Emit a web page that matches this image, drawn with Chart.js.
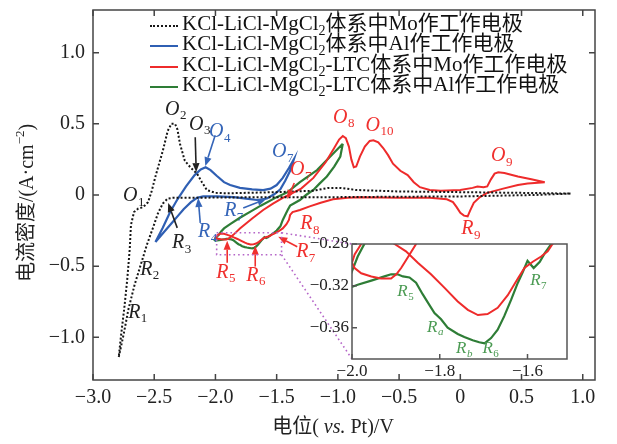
<!DOCTYPE html>
<html>
<head>
<meta charset="utf-8">
<script src="https://cdn.jsdelivr.net/npm/chart.js@4.4.1/dist/chart.umd.min.js"></script>
<style>
  html, body { margin: 0; padding: 0; background: #fff; }
  #wrap { position: relative; width: 617px; height: 444px; overflow: hidden; }
  #main { position: absolute; left: 0; top: 0; }
  #inset { position: absolute; left: 302px; top: 230px; }
  #legend { position: absolute; left: 150px; top: 13px; color: #111;
    font: 21px 'Liberation Serif', 'Noto Sans CJK SC', serif; }
  .row { position: relative; height: 20.3px; line-height: 20.3px; padding-left: 32px; white-space: nowrap; }
  .row i { position: absolute; left: 0; top: 12px; width: 28px; height: 0; }
  .row sub { font-size: 14px; vertical-align: baseline; position: relative; top: 5px; line-height: 0; }
</style>
</head>
<body>
<div id="wrap">
  <canvas id="main" width="617" height="444"></canvas>
  <canvas id="inset" width="269" height="153"></canvas>
  <div id="legend"></div>
</div>
<script>
// CV curves: KCl-LiCl-MgCl2 (with / without LTC) on Mo and Al electrodes.
// Each curve is a closed loop, so points are {x: potential V, y: current A/cm2}.

// Mo electrode, KCl-LiCl-MgCl2 (dotted black)
const moX = [0.90, 0.60, 0.30, 0.00, -0.50, -1.00, -1.50, -2.00, -2.20, -2.35,
  -2.39, -2.43, -2.47, -2.51, -2.56, -2.61, -2.66, -2.71, -2.75, -2.79,
  -2.77, -2.745, -2.72, -2.70, -2.69, -2.665, -2.63, -2.59, -2.55, -2.52,
  -2.49, -2.46, -2.43, -2.39, -2.36, -2.33, -2.31, -2.29, -2.25, -2.20,
  -2.15, -2.11, -2.07, -2.00, -1.90, -1.50, -1.20, -1.08, -0.98, -0.85,
  -0.50, 0.00, 0.50, 0.90];
const moY = [0.01, 0.00, -0.005, -0.01, -0.012, -0.015, -0.015, -0.018, -0.02, -0.02,
  -0.025, -0.06, -0.13, -0.23, -0.35, -0.49, -0.63, -0.80, -0.98, -1.14,
  -0.98, -0.80, -0.59, -0.38, -0.21, -0.12, -0.095, -0.085, -0.05, 0.03,
  0.13, 0.22, 0.31, 0.45, 0.50, 0.50, 0.46, 0.36, 0.24, 0.19,
  0.15, 0.09, 0.035, 0.015, 0.012, 0.02, 0.03, 0.05, 0.05, 0.035,
  0.025, 0.02, 0.015, 0.01];

// Al electrode, KCl-LiCl-MgCl2 (blue)
const alX = [-2.49, -2.43, -2.37, -2.31, -2.24, -2.17, -2.12, -2.08, -2.04, -1.99,
  -1.93, -1.88, -1.80, -1.70, -1.61, -1.55, -1.50, -1.45, -1.40, -1.36,
  -1.39, -1.43, -1.47, -1.52, -1.58, -1.66, -1.75, -1.85, -1.99, -2.10,
  -2.15, -2.20, -2.26, -2.31, -2.36, -2.42, -2.49];
const alY = [-0.33, -0.23, -0.12, -0.03, 0.06, 0.14, 0.18, 0.195, 0.175, 0.135,
  0.09, 0.07, 0.05, 0.04, 0.035, 0.045, 0.07, 0.12, 0.19, 0.25,
  0.17, 0.10, 0.04, 0.005, -0.025, -0.035, -0.025, -0.015, -0.01, -0.01,
  -0.02, -0.05, -0.10, -0.15, -0.20, -0.26, -0.33];

// Mo electrode, KCl-LiCl-MgCl2-LTC (red)
const moLtcX = [0.69, 0.55, 0.47, 0.35, 0.22, 0.16, 0.11, 0.08, 0.06, 0.03,
  0.00, -0.03, -0.06, -0.11, -0.25, -0.50, -0.82, -0.92, -1.04, -1.14,
  -1.23, -1.31, -1.37, -1.39, -1.40, -1.42, -1.45, -1.49, -1.52, -1.543,
  -1.554, -1.569, -1.588, -1.607, -1.622, -1.645, -1.668, -1.691, -1.713, -1.736,
  -1.759, -1.789, -1.820, -1.850, -1.877, -1.903, -1.930, -1.960, -1.979, -1.994,
  -2.000, -1.994, -1.979, -1.956, -1.934, -1.911, -1.899, -1.888, -1.873, -1.854,
  -1.80, -1.70, -1.61, -1.53, -1.45, -1.38, -1.30, -1.20, -1.10, -1.03,
  -0.99, -0.96, -0.935, -0.91, -0.89, -0.87, -0.85, -0.82, -0.78, -0.74,
  -0.71, -0.67, -0.63, -0.59, -0.55, -0.49, -0.43, -0.38, -0.33, -0.25,
  -0.16, 0.00, 0.10, 0.14, 0.19, 0.22, 0.25, 0.28, 0.31, 0.36,
  0.47, 0.58, 0.69];
const moLtcY = [0.09, 0.08, 0.07, 0.045, 0.015, -0.015, -0.055, -0.11, -0.15, -0.145,
  -0.125, -0.085, -0.05, -0.03, -0.02, -0.02, -0.015, -0.02, -0.03, -0.055,
  -0.08, -0.105, -0.12, -0.14, -0.175, -0.205, -0.235, -0.258, -0.272, -0.28,
  -0.287, -0.292, -0.297, -0.303, -0.313, -0.329, -0.341, -0.347, -0.348, -0.343,
  -0.335, -0.322, -0.309, -0.298, -0.287, -0.280, -0.273, -0.272, -0.280, -0.290,
  -0.298, -0.303, -0.308, -0.311, -0.313, -0.313, -0.309, -0.303, -0.293, -0.280,
  -0.235, -0.165, -0.105, -0.06, -0.02, 0.01, 0.045, 0.12, 0.23, 0.33,
  0.39, 0.415, 0.40, 0.34, 0.25, 0.195, 0.20, 0.27, 0.34, 0.38,
  0.385, 0.37, 0.33, 0.28, 0.22, 0.17, 0.14, 0.09, 0.055, 0.035,
  0.03, 0.035, 0.05, 0.06, 0.055, 0.06, 0.11, 0.15, 0.16, 0.155,
  0.13, 0.11, 0.09];

// Al electrode, KCl-LiCl-MgCl2-LTC (green)
const alLtcX = [-0.96, -0.98, -1.03, -1.09, -1.15, -1.20, -1.26, -1.31, -1.36, -1.39,
  -1.41, -1.43, -1.45, -1.47, -1.50, -1.525, -1.546, -1.561, -1.572, -1.586,
  -1.600, -1.611, -1.622, -1.637, -1.653, -1.668, -1.683, -1.698, -1.710, -1.725,
  -1.744, -1.759, -1.782, -1.797, -1.812, -1.827, -1.839, -1.854, -1.869, -1.884,
  -1.896, -1.911, -1.926, -1.956, -1.987, -2.000, -2.008, -2.000, -1.987, -1.972,
  -1.955, -1.93, -1.88, -1.80, -1.70, -1.63, -1.50, -1.41, -1.31, -1.17,
  -1.04, -0.96];
const alLtcY = [0.36, 0.27, 0.20, 0.13, 0.08, 0.035, 0.0, -0.035, -0.06, -0.075,
  -0.105, -0.14, -0.175, -0.22, -0.25, -0.268, -0.280, -0.289, -0.297, -0.303,
  -0.296, -0.307, -0.317, -0.333, -0.349, -0.362, -0.370, -0.375, -0.374, -0.372,
  -0.369, -0.366, -0.360, -0.352, -0.346, -0.336, -0.328, -0.317, -0.312, -0.311,
  -0.309, -0.309, -0.311, -0.315, -0.319, -0.321, -0.315, -0.306, -0.292, -0.280,
  -0.258, -0.235, -0.205, -0.16, -0.11, -0.075, -0.015, 0.02, 0.09, 0.175,
  0.29, 0.36];

const seriesLabels = [
  'KCl-LiCl-MgCl2体系中Mo作工作电极',
  'KCl-LiCl-MgCl2体系中Al作工作电极',
  'KCl-LiCl-MgCl2-LTC体系中Mo作工作电极',
  'KCl-LiCl-MgCl2-LTC体系中Al作工作电极',
];

// peak labels on the main plot: [letter, index, V, A/cm2, colour key]
const peakLabels = [
  ['O', '1', -2.696, -0.007, 'k'], ['O', '2', -2.353, 0.601, 'k'], ['O', '3', -2.157, 0.497, 'k'],
  ['R', '1', -2.663, -0.825, 'k'], ['R', '2', -2.565, -0.524, 'k'], ['R', '3', -2.304, -0.336, 'k'],
  ['O', '4', -1.993, 0.441, 'b'], ['O', '7', -1.479, 0.301, 'b'],
  ['R', '4', -2.092, -0.259, 'b'], ['R', '7', -1.879, -0.112, 'b'],
  ['O', '7', -1.332, 0.175, 'r'], ['O', '8', -0.980, 0.545, 'r'], ['O', '10', -0.715, 0.490, 'r'],
  ['O', '9', 0.310, 0.273, 'r'], ['R', '9', 0.057, -0.238, 'r'], ['R', '8', -1.258, -0.203, 'r'],
  ['R', '7', -1.291, -0.399, 'r'], ['R', '5', -1.944, -0.545, 'r'], ['R', '6', -1.699, -0.566, 'r'],
];
// arrows: [from V, from I, to V, to I, colour key]
const arrows = [
  [-2.165, 0.406, -2.157, 0.161, 'k'], [-2.312, -0.231, -2.386, -0.056, 'k'],
  [-2.002, 0.420, -2.083, 0.203, 'b'], [-2.124, -0.196, -2.141, -0.021, 'b'],
  [-1.773, -0.091, -1.585, -0.028, 'b'], [-1.356, 0.084, -1.413, -0.028, 'r'],
  [-1.332, -0.364, -1.487, -0.294, 'r'], [-1.904, -0.476, -1.904, -0.322, 'r'],
  [-1.675, -0.503, -1.675, -0.357, 'r'],
];
// zoomed window marked on the main plot
const zoomBoxX = [-1.99, -1.46];
const zoomBoxY = [-0.42, -0.265];
// peak labels inside the inset
const insetLabels = [
  ['R', '5', -1.885, -0.3255], ['R', 'a', -1.817, -0.3595], ['R', 'b', -1.751, -0.380],
  ['R', '6', -1.691, -0.380], ['R', '7', -1.582, -0.315],
];

const C = { k: '#161616', b: '#2f5fb3', r: '#ee2b2b', g: '#2e7d36', zoom: '#b565c8' };
const LBL = { k: '#222', b: '#3565b8', r: '#f0302e', g: '#4a9a52' };
const FONT = "'Liberation Serif', 'Noto Sans CJK SC', serif";
Chart.defaults.font.family = FONT;
Chart.defaults.color = '#222';

const pts = (xs, ys) => xs.map((x, i) => ({ x, y: ys[i] }));
const minus = (v, d) => (v === 0 ? '0' : (v < 0 ? '\u2212' : '') + Math.abs(v).toFixed(d));

function line(data, color, width, dash) {
  return { data, showLine: true, borderColor: color, borderWidth: width, borderDash: dash || [],
    pointRadius: 0, tension: 0, fill: false };
}

function drawRuns(ctx, runs, cx, cy) {
  let total = 0;
  const ws = runs.map((r) => { ctx.font = r[1]; const w = ctx.measureText(r[0]).width; total += w; return w; });
  let x = cx - total / 2;
  ctx.textAlign = 'left';
  ctx.textBaseline = 'middle';
  runs.forEach((r, i) => { ctx.font = r[1]; ctx.fillText(r[0], x, cy + (r[2] || 0)); x += ws[i]; });
}

function peakLabel(ctx, x, y, letter, sub, color, size) {
  ctx.fillStyle = color;
  ctx.font = `italic ${size}px ${FONT}`;
  ctx.textAlign = 'center';
  ctx.textBaseline = 'middle';
  ctx.fillText(letter, x, y);
  const w = ctx.measureText(letter).width;
  ctx.font = `${/[a-z]/.test(sub) ? 'italic ' : ''}${Math.round(size * 0.66)}px ${FONT}`;
  ctx.textAlign = 'left';
  ctx.fillText(sub, x + w / 2 + 0.5, y + size * 0.32);
}

function arrow(ctx, x0, y0, x1, y1, color) {
  const a = Math.atan2(y1 - y0, x1 - x0), L = 9, W = 3.6;
  const bx = x1 - L * Math.cos(a), by = y1 - L * Math.sin(a);
  ctx.strokeStyle = color; ctx.fillStyle = color; ctx.lineWidth = 1.6;
  ctx.beginPath(); ctx.moveTo(x0, y0); ctx.lineTo(bx, by); ctx.stroke();
  ctx.beginPath();
  ctx.moveTo(x1, y1);
  ctx.lineTo(bx + W * Math.sin(a), by - W * Math.cos(a));
  ctx.lineTo(bx - W * Math.sin(a), by + W * Math.cos(a));
  ctx.closePath(); ctx.fill();
}

// inset frame in page pixels (its canvas sits at 302,230)
const INSET_LEFT = 352, INSET_TOP = 244, INSET_BOTTOM = 359;

const framePlugin = {
  id: 'frame',
  afterDatasetsDraw(chart) {
    const { ctx, scales: { x, y } } = chart;
    ctx.save();
    arrows.forEach((a) => arrow(ctx, x.getPixelForValue(a[0]), y.getPixelForValue(a[1]),
      x.getPixelForValue(a[2]), y.getPixelForValue(a[3]), LBL[a[4]]));
    peakLabels.forEach((p) => peakLabel(ctx, x.getPixelForValue(p[2]), y.getPixelForValue(p[3]), p[0], p[1], LBL[p[4]], 20));
    // zoom window + connectors to the inset
    const bx0 = x.getPixelForValue(zoomBoxX[0]), bx1 = x.getPixelForValue(zoomBoxX[1]);
    const by0 = y.getPixelForValue(zoomBoxY[0]), by1 = y.getPixelForValue(zoomBoxY[1]);
    ctx.strokeStyle = C.zoom; ctx.lineWidth = 1.6; ctx.setLineDash([1.6, 3]);
    ctx.strokeRect(bx0, by1, bx1 - bx0, by0 - by1);
    ctx.beginPath();
    ctx.moveTo(bx1, by1); ctx.lineTo(INSET_LEFT, INSET_TOP);
    ctx.moveTo(bx1, by0); ctx.lineTo(INSET_LEFT, INSET_BOTTOM);
    ctx.stroke();
    ctx.restore();
  },
  afterDraw(chart) {
    const { ctx, chartArea: a, scales: { x, y } } = chart;
    ctx.save();
    ctx.strokeStyle = '#444'; ctx.lineWidth = 1.5;
    ctx.strokeRect(a.left, a.top, a.right - a.left, a.bottom - a.top);
    ctx.beginPath();
    x.ticks.forEach((t) => {
      const px = x.getPixelForValue(t.value);
      ctx.moveTo(px, a.bottom); ctx.lineTo(px, a.bottom - 6);
      ctx.moveTo(px, a.top); ctx.lineTo(px, a.top + 6);
    });
    y.ticks.forEach((t) => {
      const py = y.getPixelForValue(t.value);
      ctx.moveTo(a.left, py); ctx.lineTo(a.left + 6, py);
      ctx.moveTo(a.right, py); ctx.lineTo(a.right - 6, py);
    });
    ctx.stroke();
    // axis titles (mixed italic / superscript)
    ctx.fillStyle = '#222';
    const f = `20px ${FONT}`;
    drawRuns(ctx, [['电位( ', f], ['vs.', `italic 20px ${FONT}`], [' Pt)/V', f]], 333, 428);
    ctx.translate(28, 203);
    ctx.rotate(-Math.PI / 2);
    drawRuns(ctx, [['电流密度/(A·cm', f], ['\u22122', `13px ${FONT}`, -7], [')', f]], 0, 0);
    ctx.restore();
  },
};

const insetPlugin = {
  id: 'insetFrame',
  beforeDraw(chart) {
    const { ctx, chartArea: a } = chart;
    ctx.save(); ctx.fillStyle = '#fff';
    ctx.fillRect(a.left, a.top, a.right - a.left, a.bottom - a.top);
    ctx.restore();
  },
  afterDraw(chart) {
    const { ctx, chartArea: a, scales: { x, y } } = chart;
    ctx.save();
    ctx.strokeStyle = '#555'; ctx.lineWidth = 1.5;
    ctx.strokeRect(a.left, a.top, a.right - a.left, a.bottom - a.top);
    ctx.beginPath();
    x.ticks.forEach((t) => { const px = x.getPixelForValue(t.value); ctx.moveTo(px, a.bottom); ctx.lineTo(px, a.bottom - 5); });
    y.ticks.forEach((t) => { const py = y.getPixelForValue(t.value); ctx.moveTo(a.left, py); ctx.lineTo(a.left + 5, py); });
    ctx.stroke();
    insetLabels.forEach((p) => peakLabel(ctx, x.getPixelForValue(p[2]), y.getPixelForValue(p[3]), p[0], p[1], LBL.g, 17));
    ctx.restore();
  },
};

function axis(min, max, step, digits, size, pad, fit) {
  return { type: 'linear', min, max, afterFit: fit,
    ticks: { stepSize: step, includeBounds: false, padding: pad, autoSkip: false, maxRotation: 0,
      font: { size }, color: '#222', callback: (v) => minus(v, digits) },
    grid: { display: false, drawTicks: false }, border: { display: false } };
}

const mainSets = [
  line(pts(moX, moY), C.k, 2, [2, 2]),
  line(pts(alX, alY), C.b, 2.2),
  line(pts(moLtcX, moLtcY), C.r, 2),
  line(pts(alLtcX, alLtcY), C.g, 2.2),
];

new Chart(document.getElementById('main'), {
  type: 'scatter',
  data: { datasets: mainSets },
  options: {
    responsive: false, animation: false, events: [],
    layout: { padding: { left: 0, right: 22, top: 10, bottom: 0 } },
    plugins: { legend: { display: false }, tooltip: { enabled: false } },
    scales: {
      x: axis(-3.0, 1.1, 0.5, 1, 20, 6, (s) => { s.height = 64; s.paddingLeft = 0; s.paddingRight = 0; }),
      y: axis(-1.3, 1.3, 0.5, 1, 20, 8, (s) => { s.width = 93; s.paddingTop = 0; s.paddingBottom = 0; }),
    },
  },
  plugins: [framePlugin],
});

new Chart(document.getElementById('inset'), {
  type: 'scatter',
  data: { datasets: [
    line(pts(moLtcX, moLtcY), C.r, 2),
    line(pts(alLtcX, alLtcY), C.g, 2.2),
  ] },
  options: {
    responsive: false, animation: false, events: [],
    layout: { padding: { left: 0, right: 4, top: 14, bottom: 0 } },
    plugins: { legend: { display: false }, tooltip: { enabled: false } },
    scales: {
      x: axis(-2.0, -1.51, 0.2, 1, 17, 2, (s) => { s.height = 24; s.paddingLeft = 0; s.paddingRight = 0; }),
      y: axis(-0.39, -0.28, 0.04, 2, 17, 3, (s) => { s.width = 50; s.paddingTop = 0; s.paddingBottom = 0; }),
    },
  },
  plugins: [insetPlugin],
});

// legend as DOM text so MgCl2 can carry a real subscript
const sampleStyle = ['2px dotted ' + C.k, '2.2px solid ' + C.b, '2px solid ' + C.r, '2.2px solid ' + C.g];
document.getElementById('legend').innerHTML = seriesLabels.map((t, i) =>
  `<div class="row"><i style="border-top:${sampleStyle[i]}"></i>${t.replace('Cl2', 'Cl<sub>2</sub>')}</div>`).join('');
</script>
</body>
</html>
